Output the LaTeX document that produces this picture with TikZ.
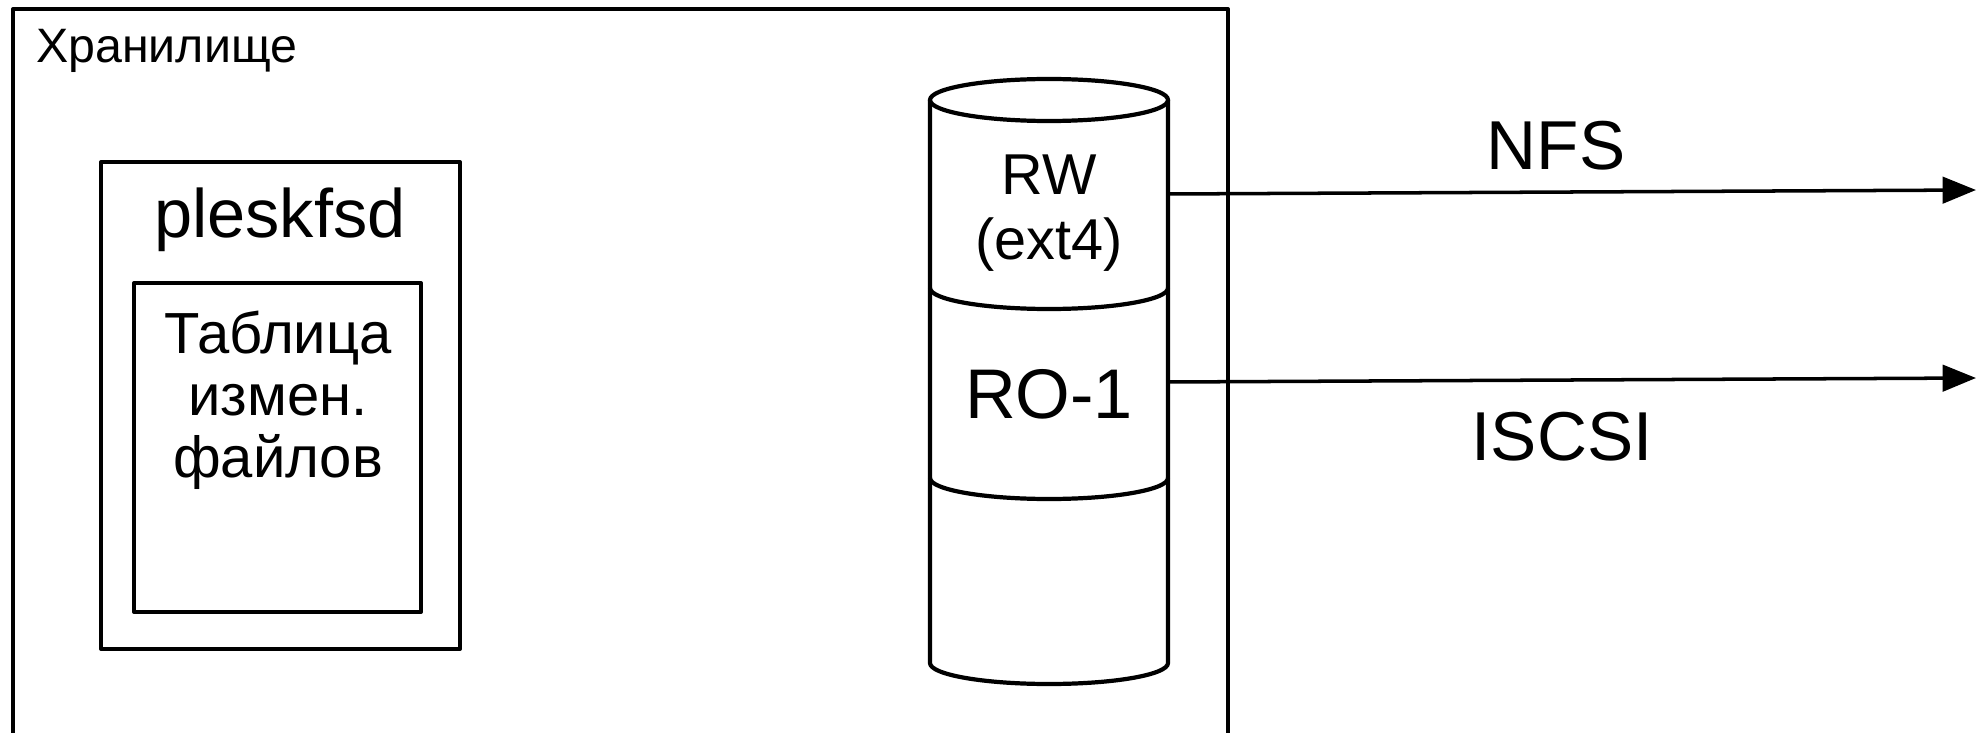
\documentclass[tikz,border=0pt]{standalone}
\usepackage{fontspec}
\setmainfont{Liberation Sans}
\usetikzlibrary{arrows.meta}
\tikzset{
  box/.style={draw, line width=2.4pt, line join=round, inner sep=0pt},
  cyl/.style={line width=2.4pt, line join=round},
  conn/.style={line width=2pt, -{Triangle[length=19pt, width=15pt]}},
}

\begin{document}
\begin{tikzpicture}[x=0.02cm, y=-0.02cm]
    \clip (0,0) rectangle (1984,733);

    \node[box, minimum width=24.3cm, minimum height=15.24cm] (S) at (620.5,390) {};
    \node[anchor=base west, font=\fontsize{27.5}{33}\selectfont] (SL) at (30,63) {Хранилище};

    \node[box, minimum width=7.18cm, minimum height=9.74cm] (P) at (280.5,405.5) {};
    \node[anchor=base, font=\fontsize{39}{46}\selectfont] (PL) at (280,237) {pleskfsd};
    \node[box, minimum width=5.74cm, minimum height=6.58cm] (T) at (277.5,447.5) {};
    \node[anchor=base, align=center, font=\fontsize{33}{35.1}\selectfont] (TL) at (278,477) {Таблица\\измен.\\файлов};

    \draw[cyl] (1049,100) ellipse [x radius=119, y radius=21];
    \draw[cyl] (930,100) -- (930,663) arc [start angle=180, end angle=0, x radius=119, y radius=21] -- (1168,100);
    \draw[cyl] (930,288) arc [start angle=180, end angle=0, x radius=119, y radius=21];
    \draw[cyl] (930,478) arc [start angle=180, end angle=0, x radius=119, y radius=21];

    \node[anchor=base, align=center, font=\fontsize{32.8}{36.8}\selectfont] (RW) at (1049,259) {RW\\(ext4)};
    \node[anchor=base, font=\fontsize{40}{46}\selectfont] (RO) at (1049,418) {RO-1};

    \coordinate (A) at (1168,194);
    \coordinate (B) at (1976,190);
    \coordinate (C) at (1168,382);
    \coordinate (D) at (1976,378);
    \draw[conn] (A) -- (B);
    \draw[conn] (C) -- (D);

    \node[anchor=base, font=\fontsize{39.4}{46}\selectfont] (N) at (1556,170) {NFS};
    \node[anchor=base, font=\fontsize{39.4}{46}\selectfont] (I) at (1562,460) {ISCSI};
\end{tikzpicture}
\end{document}
